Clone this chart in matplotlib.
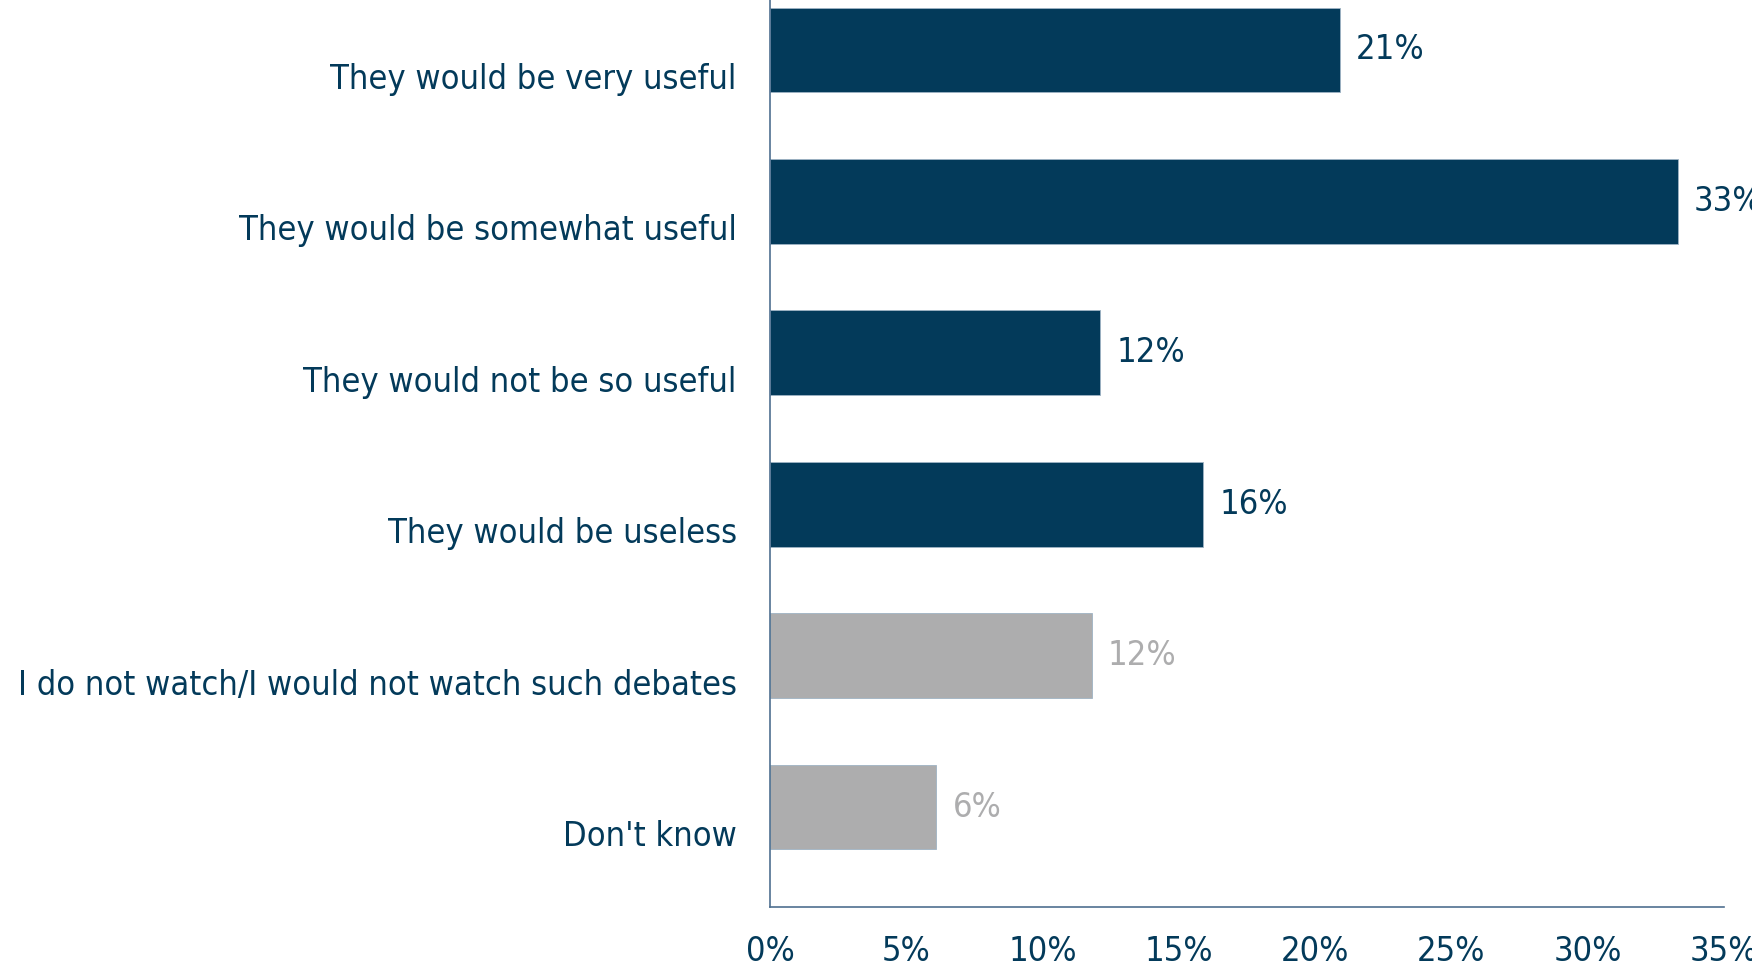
import matplotlib.pyplot as plt
from matplotlib import font_manager
from matplotlib.transforms import ScaledTranslation

categories = ["They would be very useful",
              "They would be somewhat useful",
              "They would not be so useful",
              "They would be useless",
              "I do not watch/I would not watch such debates",
              "Don't know"]
values = [20.9, 33.3, 12.1, 15.9, 11.8, 6.1]
labels = ["21%", "33%", "12%", "16%", "12%", "6%"]
is_grey = [False, False, False, False, True, True]
xticks = [0, 5, 10, 15, 20, 25, 30, 35]

navy = "#033a5a"
grey = "#adadae"

# narrow-ish font if there is one
fonts = font_manager.fontManager.ttflist
cond = [f for f in fonts if f.name == "DejaVu Sans" and "ondensed" in str(f.stretch) + f.fname]
plt.rcParams['font.family'] = ['DejaVu Sans']
if cond:
    plt.rcParams['font.stretch'] = 'condensed'
fs = 24.7 if cond else 22.5

fig = plt.figure(figsize=(17.52, 9.66), dpi=100)
ax = fig.add_axes([0.4395, 0.0611, 0.5445, 0.9389])

colors = [grey if g else navy for g in is_grey]
ypos = list(range(len(categories)))
ax.barh(ypos, values, height=0.56, color=colors, edgecolor="#9fb3c4", linewidth=0.6)

for y, v, lab, c in zip(ypos, values, labels, colors):
    ax.text(v + 0.6, y, lab, va="center", ha="left", fontsize=fs, color=c)

ax.set_xlim(0, 35)
ax.set_ylim(5.66, -0.33)
ax.set_yticks(ypos)
ax.set_yticklabels(categories, fontsize=fs, color=navy)
ax.set_xticks(xticks)
ax.set_xticklabels([f"{t}%" for t in xticks], fontsize=fs, color=navy)
ax.tick_params(axis="both", length=0)
ax.tick_params(axis="x", pad=20)
ax.tick_params(axis="y", pad=24)

# category labels sit a bit below the bar centres
shift = ScaledTranslation(0, -0.26, fig.dpi_scale_trans)
for t in ax.get_yticklabels():
    t.set_transform(t.get_transform() + shift)

for s in ["top", "right"]:
    ax.spines[s].set_visible(False)
for s in ["left", "bottom"]:
    ax.spines[s].set_color("#4f7090")
    ax.spines[s].set_linewidth(1.2)

fig.savefig("out.png", dpi=100)
